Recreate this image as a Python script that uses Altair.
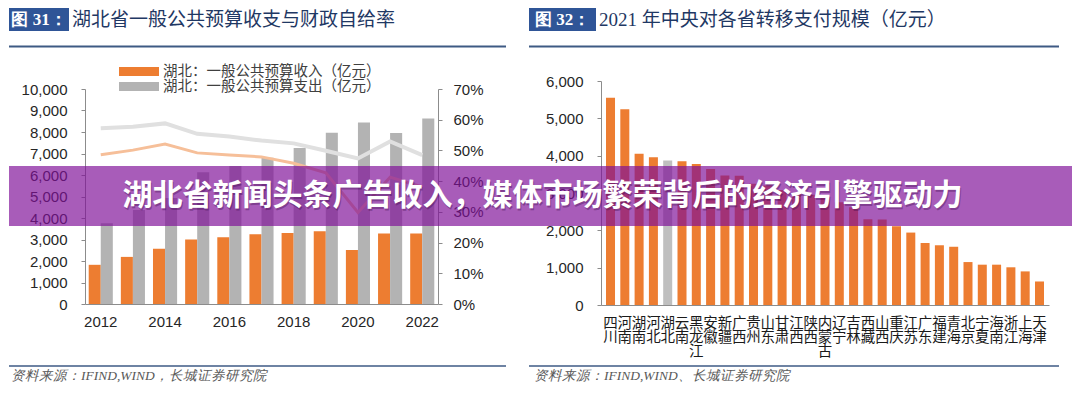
import altair as alt
import pandas as pd

# ---------------- data ----------------
years = [2012, 2013, 2014, 2015, 2016, 2017, 2018, 2019, 2020, 2021, 2022]
revenue = [1823, 2191, 2567, 3005, 3102, 3248, 3307, 3388, 2512, 3283, 3281]
expenditure = [3760, 4372, 4934, 6132, 6423, 6801, 7258, 7970, 8439, 7951, 8623]
self_sufficiency = [0.486, 0.501, 0.521, 0.492, 0.485, 0.479, 0.458, 0.427, 0.298, 0.413, 0.381]
reference_ratio = [0.572, 0.577, 0.588, 0.554, 0.545, 0.532, 0.523, 0.499, 0.474, 0.529, 0.485]
year_ticks = [2012, 2014, 2016, 2018, 2020, 2022]
left_ticks = [0, 1000, 2000, 3000, 4000, 5000, 6000, 7000, 8000, 9000, 10000]
pct_ticks = [0, 0.1, 0.2, 0.3, 0.4, 0.5, 0.6, 0.7]

provinces = ["四川", "河南", "湖南", "河北", "湖北", "云南", "黑龙江", "安徽", "新疆", "广西",
             "贵州", "山东", "甘肃", "江西", "陕西", "内蒙古", "辽宁", "吉林", "西藏", "山西",
             "重庆", "江苏", "广东", "福建", "青海", "北京", "宁夏", "海南", "浙江", "上海", "天津"]
transfers = [5550, 5240, 4050, 3960, 3870, 3850, 3780, 3640, 3470, 3460,
             3250, 3200, 3080, 3000, 2950, 2870, 2750, 2620, 2300, 2290,
             2110, 1940, 1660, 1600, 1560, 1150, 1080, 1080, 1010, 900, 630]
right_ticks = [0, 1000, 2000, 3000, 4000, 5000, 6000]

REV = "湖北：一般公共预算收入（亿元）"
EXP = "湖北：一般公共预算支出（亿元）"

LEFT_TITLE = "湖北省一般公共预算收支与财政自给率"
RIGHT_TITLE = "2021 年中央对各省转移支付规模（亿元）"
LEFT_SRC = "资料来源：IFIND,WIND，长城证券研究院"
RIGHT_SRC = "资料来源：IFIND,WIND、长城证券研究院"
BANNER = "湖北省新闻头条广告收入，媒体市场繁荣背后的经济引擎驱动力"

CJK = "Noto Sans CJK SC"
ORANGE = "#ed7d31"
GRAY = "#b3b3b3"
HEAD_BLUE = "#2f5597"
LINE_BLUE = "#3e5a84"

one = pd.DataFrame({"k": [0]})


def txt(s, x, y, **kw):
    return alt.Chart(pd.DataFrame({"t": [s]})).mark_text(**kw).encode(
        x=alt.value(x), y=alt.value(y), text="t:N")


def box(x1, x2, y1, y2, **kw):
    return alt.Chart(one).mark_rect(**kw).encode(
        x=alt.value(x1), x2=alt.value(x2), y=alt.value(y1), y2=alt.value(y2))


def hrule(x1, x2, y, **kw):
    return alt.Chart(one).mark_rule(**kw).encode(
        x=alt.value(x1), x2=alt.value(x2), y=alt.value(y))


# ---------------- left panel ----------------
bar_df = pd.DataFrame({
    "year": years + years,
    "series": [REV] * len(years) + [EXP] * len(years),
    "value": revenue + expenditure,
})
line_df = pd.DataFrame({"year": years, "self": self_sufficiency, "ref": reference_ratio})

x_left = alt.X("year:O", title=None,
               scale=alt.Scale(paddingInner=0.25, paddingOuter=0.115),
               axis=alt.Axis(values=year_ticks, labelAngle=0, ticks=False, labelPadding=10))

legend_path = "M-1,-0.53H3.706V0.53H-1Z"

bars_left = alt.Chart(bar_df).mark_bar().encode(
    x=x_left,
    xOffset=alt.XOffset("series:N", sort=[REV, EXP]),
    y=alt.Y("value:Q", title=None,
            scale=alt.Scale(domain=[0, 10000], range=[223, 8], nice=False),
            axis=alt.Axis(values=left_ticks, format=",d", tickSize=4, labelPadding=14)),
    color=alt.Color("series:N", sort=[REV, EXP],
                    scale=alt.Scale(domain=[REV, EXP], range=[ORANGE, GRAY]),
                    legend=alt.Legend(title=None, orient="none", legendX=34, legendY=-18,
                                      symbolType=legend_path, symbolSize=289,
                                      symbolStrokeWidth=0, symbolOpacity=1,
                                      labelOffset=27, rowPadding=0, padding=0,
                                      labelLimit=400,
                                      labelFont=CJK, labelFontSize=14.5,
                                      labelColor="#404040")),
)

y_pct_axis = alt.Axis(orient="right", values=pct_ticks, format=".0%", tickSize=4, labelPadding=11)
pct_scale = alt.Scale(domain=[0, 0.7], range=[223, 8], nice=False)

line_ref = alt.Chart(line_df).mark_line(color="#e0e0e0", strokeWidth=4).encode(
    x=x_left, y=alt.Y("ref:Q", title=None, scale=pct_scale, axis=y_pct_axis))
line_self = alt.Chart(line_df).mark_line(color="#f6bf99", strokeWidth=3).encode(
    x=x_left, y=alt.Y("self:Q", title=None, scale=pct_scale, axis=y_pct_axis))
lines = alt.layer(line_ref, line_self)

left_decor = [
    box(-76, -16, -73, -50, color=HEAD_BLUE),
    txt("图 31：", -46, -61.5, font="Liberation Serif", fontSize=17, fontWeight="bold",
        color="white", align="center", baseline="middle"),
    txt(LEFT_TITLE, -13, -61, font=CJK, fontSize=19, color="#1f3864",
        align="left", baseline="middle"),
    hrule(-76, 421, -34.5, color=LINE_BLUE, strokeWidth=2),
    hrule(-76, 421, 285, color=LINE_BLUE, strokeWidth=1.5),
    txt(LEFT_SRC, -74, 295, font="Liberation Serif", fontSize=13.5, fontStyle="italic",
        color="#595959", align="left", baseline="middle"),
]

left = alt.layer(bars_left, lines, *left_decor).resolve_scale(y="independent").properties(
    width=353, height=223)

# ---------------- right panel ----------------
prov_df = pd.DataFrame({"province": provinces, "value": transfers})

bars_right = alt.Chart(prov_df).mark_bar().encode(
    x=alt.X("province:N", sort=provinces, title=None,
            scale=alt.Scale(paddingInner=0.37, paddingOuter=0.35),
            axis=alt.Axis(labelAngle=0, labelExpr="split(datum.label, '')", labelFont=CJK,
                          labelFontSize=14.5, labelLineHeight=14.3, labelBaseline="top",
                          labelPadding=11, ticks=False, labelColor="#1a1a1a")),
    y=alt.Y("value:Q", title=None, scale=alt.Scale(domain=[0, 6000], nice=False),
            axis=alt.Axis(values=right_ticks, format=",d", tickSize=4, labelPadding=14)),
    color=alt.condition(alt.datum.province == "湖北", alt.value("#bfbfbf"), alt.value(ORANGE)),
)

right_decor = [
    box(-72, -5, -73, -50, color=HEAD_BLUE),
    txt("图 32：", -38.5, -61.5, font="Liberation Serif", fontSize=17, fontWeight="bold",
        color="white", align="center", baseline="middle"),
    txt(RIGHT_TITLE, -2, -61, font="Liberation Serif, " + CJK, fontSize=19, color="#1f3864",
        align="left", baseline="middle"),
    hrule(-72, 458, -34.5, color=LINE_BLUE, strokeWidth=2),
    hrule(-72, 458, 285, color=LINE_BLUE, strokeWidth=1.5),
    txt(RIGHT_SRC, -67, 295, font="Liberation Serif", fontSize=13.5, fontStyle="italic",
        color="#595959", align="left", baseline="middle"),
    # overlay banner spanning both panels
    box(-592, 471, 85, 145, color="#7f0f98", opacity=0.68),
    txt(BANNER, -57.5, 116.5, font=CJK, fontSize=30, fontWeight="bold",
        color="#3a0848", opacity=0.35, align="center", baseline="middle"),
    txt(BANNER, -58.5, 115, font=CJK, fontSize=30, fontWeight="bold",
        color="white", align="center", baseline="middle"),
]

right = alt.layer(bars_right, *right_decor).properties(width=448, height=224)

chart = alt.hconcat(left, right, spacing=163, bounds="flush", padding=0).resolve_scale(
    color="independent").resolve_legend(color="independent").configure_view(
    stroke=None).configure_axis(
    labelFont="Liberation Sans", labelFontSize=15, labelColor="#262626",
    domainColor="#8c8c8c", tickColor="#8c8c8c", grid=False)

chart.save("out.html", embed_options={"renderer": "svg", "actions": False})
